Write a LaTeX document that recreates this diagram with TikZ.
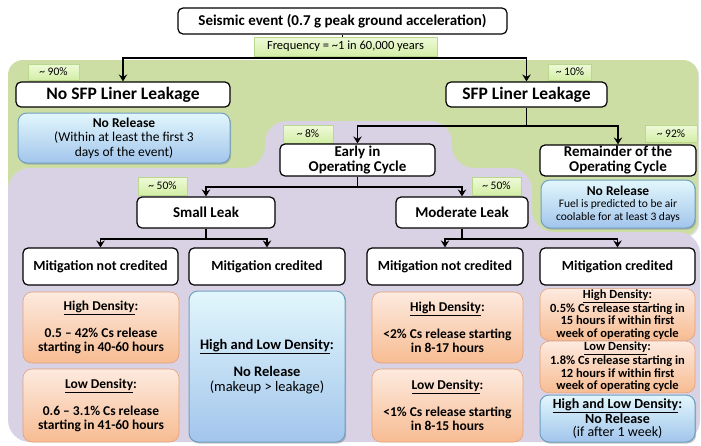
\documentclass[tikz,border=0pt]{standalone}
\usepackage{fontspec}
\setmainfont{Carlito}
\usetikzlibrary{shadows,arrows.meta}
\definecolor{greenbg}{HTML}{CDDEA5}
\definecolor{purplebg}{HTML}{D9D2E4}
\definecolor{bluetop}{HTML}{E2F7FC}
\definecolor{bluebot}{HTML}{A2C5EC}
\definecolor{blueborder}{HTML}{6E9FBE}
\definecolor{ortop}{HTML}{FDEADF}
\definecolor{orbot}{HTML}{F7BC92}
\definecolor{orborder}{HTML}{E3A07C}
\definecolor{lbltop}{HTML}{EEFAD9}
\definecolor{lblbot}{HTML}{D3EEA6}
\definecolor{lblborder}{HTML}{B9D88E}
\tikzset{
 wbox/.style={draw=black, line width=1.2pt, fill=white, rounded corners=5pt, align=center, inner sep=1pt, font=\fontsize{15}{15}\selectfont\bfseries},
 pct/.style={draw=lblborder, line width=0.6pt, top color=lbltop, bottom color=lblbot, font=\fontsize{11.5}{12}\selectfont, inner sep=0pt},
 bluebox/.style={draw=blueborder, line width=1pt, top color=bluetop, bottom color=bluebot, rounded corners=9pt, align=center, inner sep=1pt, drop shadow={shadow xshift=1.2pt, shadow yshift=-1.6pt, opacity=0.45}},
 orbox/.style={draw=orborder, line width=0.6pt, top color=ortop, bottom color=orbot, rounded corners=9pt, align=center, inner sep=1pt, font=\fontsize{13.5}{14}\selectfont\bfseries},
 mitig/.style={wbox, minimum height=37pt, font=\fontsize{14}{14}\selectfont\bfseries},
 conn/.style={line width=1.8pt, black},
 arr/.style={conn, -{Stealth[length=7pt,width=8.5pt,inset=2.5pt]}},
}
\begin{document}
\begin{tikzpicture}[x=1pt,y=-1pt]
\useasboundingbox (0,0) rectangle (701,445);
\fill[white] (0,0) rectangle (701,445);
% backgrounds
\path[fill=greenbg, rounded corners=15pt, drop shadow={shadow xshift=1.2pt, shadow yshift=-1.5pt, opacity=0.25}] (8,60) rectangle (698,236);
\fill[purplebg, rounded corners=22pt] (8,442) -- (8,168) -- (265,168) -- (265,121) -- (452,121) -- (452,168) -- (532,168) -- (532,232) -- (700,232) -- (700,442) -- cycle;

% nodes
\node[wbox, minimum width=329pt, minimum height=26pt] (title) at (342.5,21) {Seismic event (0.7 g peak ground acceleration)};
\node[pct, minimum width=51pt, minimum height=16pt] (p90) at (53.5,72) {\textasciitilde{} 90\%};
\node[wbox, minimum width=214pt, minimum height=25pt, font=\fontsize{17.5}{18}\selectfont\bfseries] (nosfp) at (123,94.5) {No SFP Liner Leakage};
\node[bluebox, minimum width=212pt, minimum height=50pt, font=\fontsize{13.5}{14.5}\selectfont] (nr1) at (124,138) {{\bfseries No Release}\\(Within at least the first 3\\days of the event)};
\node[pct, minimum width=43pt, minimum height=16pt] (p10) at (570,72) {\textasciitilde{} 10\%};
\node[wbox, minimum width=161pt, minimum height=25pt, font=\fontsize{17.5}{18}\selectfont\bfseries] (sfp) at (526.5,94.5) {SFP Liner Leakage};
\node[pct, minimum width=50pt, minimum height=18pt] (p8) at (308,134) {\textasciitilde{} 8\%};
\node[pct, minimum width=52pt, minimum height=17pt] (p92) at (671,133.5) {\textasciitilde{} 92\%};
\node[wbox, minimum width=155pt, minimum height=32pt] (early) at (357.5,160) {Early in\\Operating Cycle};
\node[wbox, minimum width=156pt, minimum height=31pt] (rem) at (618,160.5) {Remainder of the\\Operating Cycle};
\node[bluebox, minimum width=154pt, minimum height=48pt, font=\fontsize{11.5}{12.5}\selectfont] (nr2) at (618,204) {{\fontsize{13.5}{13}\selectfont\bfseries No Release}\\Fuel is predicted to be air\\coolable for at least 3 days};
\node[pct, minimum width=49pt, minimum height=18pt] (p50a) at (162.5,186) {\textasciitilde{} 50\%};
\node[pct, minimum width=49pt, minimum height=18pt] (p50b) at (496.5,186) {\textasciitilde{} 50\%};
\node[wbox, minimum width=138pt, minimum height=31pt] (small) at (206,212.5) {Small Leak};
\node[wbox, minimum width=132pt, minimum height=31pt] (moderate) at (462,212.5) {Moderate Leak};
\node[mitig, minimum width=155pt] (m1) at (100.5,266.5) {Mitigation not credited};
\node[mitig, minimum width=156pt] (m2) at (267,266.5) {Mitigation credited};
\node[mitig, minimum width=156pt] (m3) at (445,266.5) {Mitigation not credited};
\node[mitig, minimum width=155pt] (m4) at (617.5,266.5) {Mitigation credited};
% outcome boxes
\node[orbox, minimum width=156pt, minimum height=71pt] (o1) at (101,327.5) {\underline{High Density}:\\[13pt]0.5 – 42\% Cs release\\starting in 40-60 hours};
\node[orbox, minimum width=156pt, minimum height=73pt] (o2) at (101,405.5) {\underline{Low Density}:\\[13pt]0.6 – 3.1\% Cs release\\starting in 41-60 hours};
\node[bluebox, minimum width=156pt, minimum height=151pt, font=\fontsize{14.5}{15}\selectfont\bfseries] (b3) at (267,366.5) {\underline{High and Low Density}:\\[12pt]No Release\\{\mdseries (makeup > leakage)}};
\node[orbox, minimum width=151pt, minimum height=71pt] (o3) at (447.5,327.5) {\underline{High Density}:\\[13pt]<2\% Cs release starting\\in 8-17 hours};
\node[orbox, minimum width=151pt, minimum height=73pt] (o4) at (447.5,405.5) {\underline{Low Density}:\\[13pt]<1\% Cs release starting\\in 8-15 hours};
\node[orbox, minimum width=155pt, minimum height=49pt, font=\fontsize{12.5}{12.5}\selectfont\bfseries] (o5) at (617.5,314.5) {\underline{High Density}:\\0.5\% Cs release starting in\\15 hours if within first\\week of operating cycle};
\node[orbox, minimum width=155pt, minimum height=48pt, font=\fontsize{12.5}{12.5}\selectfont\bfseries] (o6) at (617.5,367) {\underline{Low Density}:\\1.8\% Cs release starting in\\12 hours if within first\\week of operating cycle};
\node[bluebox, minimum width=155pt, minimum height=47pt, font=\fontsize{14}{13.5}\selectfont\bfseries] (b4) at (617.5,418.5) {\underline{High and Low Density}:\\No Release\\{\mdseries (if after 1 week)}};

% connectors
\coordinate (j1) at (342.5,58);
\coordinate (j2) at (526.5,126);
\coordinate (j3) at (357.5,187);
\coordinate (j4) at (206,239);
\coordinate (j5) at (462,239);
\draw[conn] (title.south) -- (j1);
\draw[arr] (j1) -| (nosfp.north);
\draw[arr] (j1) -| (sfp.north);
\draw[conn] (sfp.south) -- (j2);
\draw[arr] (j2) -| (early.north);
\draw[arr] (j2) -| (rem.north);
\draw[conn] (early.south) -- (j3);
\draw[arr] (j3) -| (small.north);
\draw[arr] (j3) -| (moderate.north);
\draw[conn] (small.south) -- (j4);
\draw[arr] (j4) -| (m1.north);
\draw[arr] (j4) -| (m2.north);
\draw[conn] (moderate.south) -- (j5);
\draw[arr] (j5) -| (m3.north);
\draw[arr] (j5) -| (m4.north);

\node[pct, minimum width=183pt, minimum height=19pt, font=\fontsize{12.5}{13}\selectfont] (freq) at (345.5,46.5) {Frequency = \textasciitilde1 in 60,000 years};
\end{tikzpicture}
\end{document}
